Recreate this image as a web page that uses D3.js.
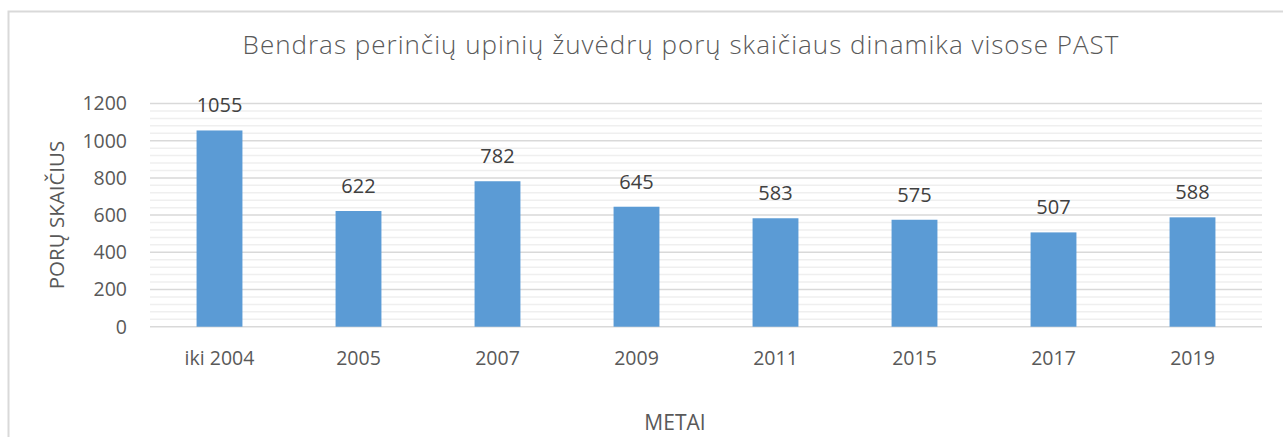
<!DOCTYPE html>
<html>
<head>
<meta charset="utf-8">
<script src="https://cdn.jsdelivr.net/npm/d3@7"></script>
<style>
  body { margin: 0; background: #fff; }
  svg { display: block; font-family: "Open Sans", "Noto Sans", sans-serif; }
</style>
</head>
<body>
<svg id="chart" width="1283" height="437"></svg>
<script>
// chart data
const years = ["iki 2004", "2005", "2007", "2009", "2011", "2015", "2017", "2019"];
const pairs = [1055, 622, 782, 645, 583, 575, 507, 588];
const yTicks = [0, 200, 400, 600, 800, 1000, 1200];

const svg = d3.select("#chart");
const margin = { left: 150, right: 1262, top: 103.5, bottom: 326.7 };

// chart border (only top and left visible in the frame)
svg.append("rect")
  .attr("x", 8.5).attr("y", 11.5)
  .attr("width", 1300).attr("height", 500)
  .attr("fill", "none")
  .attr("stroke", "#d9d9d9")
  .attr("stroke-width", 2);

const x = d3.scaleBand()
  .domain(years)
  .range([margin.left, margin.right])
  .paddingInner(0.67)
  .paddingOuter(0.335);

const y = d3.scaleLinear()
  .domain([0, 1200])
  .range([margin.bottom, margin.top]);

// minor gridlines every 40
svg.append("g")
  .selectAll("line")
  .data(d3.range(40, 1200, 40).filter(v => v % 200 !== 0))
  .join("line")
  .attr("x1", margin.left).attr("x2", margin.right)
  .attr("y1", d => y(d)).attr("y2", d => y(d))
  .attr("stroke", "#efefef")
  .attr("stroke-width", 1.5);

// major gridlines
svg.append("g")
  .selectAll("line")
  .data(yTicks)
  .join("line")
  .attr("x1", margin.left).attr("x2", margin.right)
  .attr("y1", d => y(d)).attr("y2", d => y(d))
  .attr("stroke", "#d9d9d9")
  .attr("stroke-width", 1.5);

// bars
svg.append("g")
  .selectAll("rect")
  .data(years)
  .join("rect")
  .attr("x", d => x(d))
  .attr("width", x.bandwidth())
  .attr("y", (d, i) => y(pairs[i]))
  .attr("height", (d, i) => y(0) - y(pairs[i]))
  .attr("fill", "#5b9bd5");

// value labels
svg.append("g")
  .selectAll("text")
  .data(years)
  .join("text")
  .attr("x", d => x(d) + x.bandwidth() / 2)
  .attr("y", (d, i) => y(pairs[i]) - 18)
  .attr("text-anchor", "middle")
  .attr("font-size", 20)
  .attr("fill", "#404040")
  .text((d, i) => pairs[i]);

// y tick labels
svg.append("g")
  .selectAll("text")
  .data(yTicks)
  .join("text")
  .attr("x", 127)
  .attr("y", d => y(d))
  .attr("dy", "0.35em")
  .attr("text-anchor", "end")
  .attr("font-size", 19.5)
  .attr("fill", "#595959")
  .text(d => d);

// x tick labels
svg.append("g")
  .selectAll("text")
  .data(years)
  .join("text")
  .attr("x", d => x(d) + x.bandwidth() / 2)
  .attr("y", 365)
  .attr("text-anchor", "middle")
  .attr("font-size", 19.5)
  .attr("fill", "#595959")
  .text(d => d);

// title
svg.append("text")
  .attr("x", 681)
  .attr("y", 54)
  .attr("text-anchor", "middle")
  .attr("font-size", 26)
  .attr("font-weight", 300)
  .attr("letter-spacing", 1)
  .attr("fill", "#595959")
  .text("Bendras perinčių upinių žuvėdrų porų skaičiaus dinamika visose PAST");

// axis titles
svg.append("text")
  .attr("transform", "translate(64,215) rotate(-90)")
  .attr("text-anchor", "middle")
  .attr("font-size", 20.5)
  .attr("fill", "#595959")
  .text("PORŲ SKAIČIUS");

svg.append("text")
  .attr("x", 675)
  .attr("y", 430)
  .attr("text-anchor", "middle")
  .attr("font-size", 21)
  .attr("fill", "#595959")
  .text("METAI");
</script>
</body>
</html>
